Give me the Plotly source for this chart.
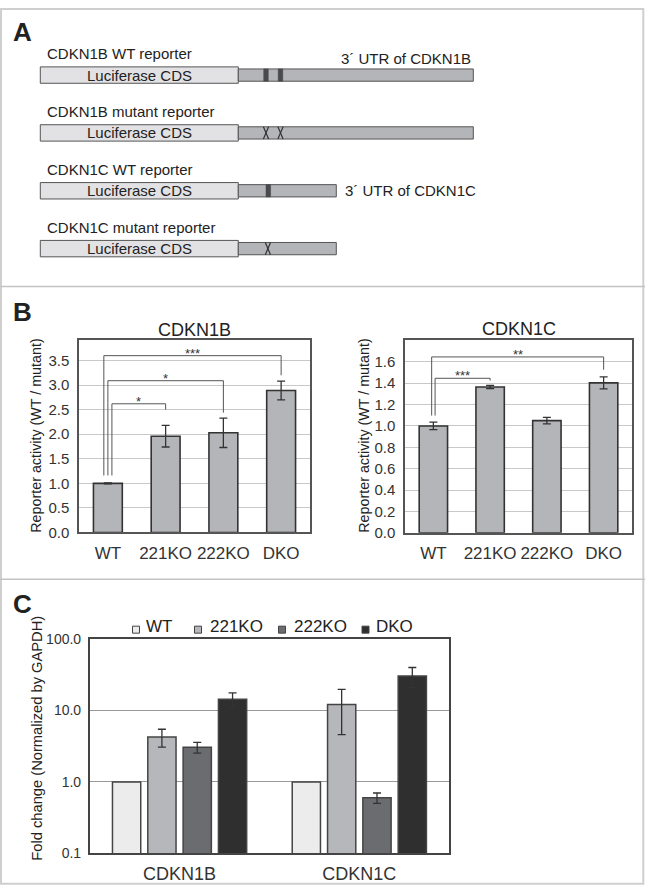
import plotly.graph_objects as go

W, H = 645, 894
FONT = "Liberation Sans, Arial, sans-serif"
TXT = "#222222"

# ---------------- Panel A data (schematic lengths, arbitrary units) ----------------
construct_names = ["CDKN1B WT reporter", "CDKN1B mutant reporter",
                   "CDKN1C WT reporter", "CDKN1C mutant reporter"]
luc_label = "Luciferase CDS"
luc_length = 198
utr_lengths = [235, 235, 98, 98]
site_offsets = [[27.7, 42.2], [27.7, 42.2], [30.0], [29.6]]
site_mutated = [False, True, False, True]
utr_labels = ["3´ UTR of CDKN1B", "3´ UTR of CDKN1C"]

# ---------------- Panel B data ----------------
genotypes = ["WT", "221KO", "222KO", "DKO"]
cdkn1b_reporter = [1.00, 1.96, 2.03, 2.89]
cdkn1b_reporter_err = [0.01, 0.22, 0.30, 0.19]
cdkn1c_reporter = [1.00, 1.364, 1.05, 1.403]
cdkn1c_reporter_err = [0.035, 0.015, 0.03, 0.057]
cdkn1b_sig = [("WT", "221KO", "*"), ("WT", "222KO", "*"), ("WT", "DKO", "***")]
cdkn1c_sig = [("WT", "221KO", "***"), ("WT", "DKO", "**")]
cdkn1b_yticks = [0.0, 0.5, 1.0, 1.5, 2.0, 2.5, 3.0, 3.5]
cdkn1c_yticks = [0.0, 0.2, 0.4, 0.6, 0.8, 1.0, 1.2, 1.4, 1.6]

# ---------------- Panel C data ----------------
genes = ["CDKN1B", "CDKN1C"]
series_names = ["WT", "221KO", "222KO", "DKO"]
fold_wt = [1.0, 1.0]
fold_221ko = [4.27, 12.2]
fold_222ko = [3.06, 0.60]
fold_dko = [14.4, 30.5]
err_wt = [0.0, 0.0]
err_221ko = [1.2, 7.6]
err_222ko = [0.53, 0.10]
err_dko = [3.3, 9.6]
c_y_ticks = [0.1, 1, 10, 100]
c_y_ticklabels = ["0.1", "1.0", "10.0", "100.0"]

# ---------------- helpers ----------------
def px(x):
    return x / W

def py(y):
    return 1 - y / H

fig = go.Figure()

# ================= Panel A (schematic) on x4/y4, units = pixels =================
origin = 40.3
row_y0, row_step = 68.3, 58.9
luc_h, utr_h = 16.7, 12.5
for i, name in enumerate(construct_names):
    yc = row_y0 + i * row_step
    fig.add_trace(go.Bar(x=[luc_length], y=[yc], base=[origin], orientation="h",
                         width=luc_h, offset=-luc_h / 2,
                         marker=dict(color="#e2e2e4", line=dict(color="#555", width=1)),
                         xaxis="x4", yaxis="y4", showlegend=False, hoverinfo="skip"))
    fig.add_trace(go.Bar(x=[utr_lengths[i]], y=[yc], base=[origin + luc_length], orientation="h",
                         width=utr_h, offset=-utr_h / 2,
                         marker=dict(color="#b4b5b8", line=dict(color="#555", width=1)),
                         xaxis="x4", yaxis="y4", showlegend=False, hoverinfo="skip"))
    for s in site_offsets[i]:
        sx = origin + luc_length + s
        if site_mutated[i]:
            fig.add_trace(go.Scatter(
                x=[sx - 2.6, sx + 2.6, None, sx + 2.6, sx - 2.6],
                y=[yc - utr_h / 2, yc + utr_h / 2, None, yc - utr_h / 2, yc + utr_h / 2],
                mode="lines", line=dict(color="#333", width=1.2),
                xaxis="x4", yaxis="y4", showlegend=False, hoverinfo="skip"))
        else:
            fig.add_trace(go.Bar(x=[4.6], y=[yc], base=[sx - 2.3], orientation="h",
                                 width=utr_h, offset=-utr_h / 2,
                                 marker=dict(color="#4a4a4d", line=dict(color="#4a4a4d", width=0.5)),
                                 xaxis="x4", yaxis="y4", showlegend=False, hoverinfo="skip"))
    fig.add_annotation(x=origin + luc_length / 2, y=yc, text=luc_label, xref="x4", yref="y4",
                       xanchor="center", yanchor="middle",
                       showarrow=False, font=dict(size=15, color=TXT))
    fig.add_annotation(x=origin + 5, y=yc - 21.5, text=name, xref="x4", yref="y4",
                       xanchor="left", yanchor="middle", showarrow=False,
                       font=dict(size=15, color=TXT))

# UTR labels
fig.add_annotation(x=origin + luc_length + utr_lengths[0], y=row_y0 - 16.6, text=utr_labels[0],
                   xref="x4", yref="y4", xanchor="right", yanchor="middle", showarrow=False,
                   font=dict(size=15, color=TXT))
fig.add_annotation(x=origin + luc_length + utr_lengths[2] + 7, y=row_y0 + 2 * row_step,
                   text=utr_labels[1], xref="x4", yref="y4", xanchor="left", yanchor="middle",
                   showarrow=False, font=dict(size=15, color=TXT))

# ================= Panel B =================
xpos = list(range(len(genotypes)))
bar_style = dict(color="#b4b5b8", line=dict(color="#333", width=1.6))
err_style = dict(type="data", color="#333", thickness=1.3, width=4)

fig.add_trace(go.Bar(x=xpos, y=cdkn1b_reporter, width=0.5, marker=bar_style,
                     error_y=dict(array=cdkn1b_reporter_err, **err_style),
                     xaxis="x", yaxis="y", showlegend=False, hoverinfo="skip"))
fig.add_trace(go.Bar(x=xpos, y=cdkn1c_reporter, width=0.5, marker=bar_style,
                     error_y=dict(array=cdkn1c_reporter_err, **err_style),
                     xaxis="x2", yaxis="y2", showlegend=False, hoverinfo="skip"))


def add_brackets(sig, heights, left_offsets, left_bottom, right_bottoms, xa, ya):
    for (a, b, label), h, lo, rb in zip(sig, heights, left_offsets, right_bottoms):
        ia, ib = genotypes.index(a), genotypes.index(b)
        xl = ia + lo
        fig.add_trace(go.Scatter(x=[xl, xl, ib, ib], y=[left_bottom, h, h, rb], mode="lines",
                                 line=dict(color="#555", width=1), xaxis=xa, yaxis=ya,
                                 showlegend=False, hoverinfo="skip"))
        fig.add_annotation(x=(xl + ib) / 2, y=h, text=label, xref=xa, yref=ya,
                           xanchor="center", yanchor="bottom", yshift=-7, showarrow=False,
                           font=dict(size=13, color="#333"))


add_brackets(cdkn1b_sig, [2.62, 3.09, 3.60], [0.07, 0.0, -0.07], 1.16, [2.50, 2.44, 3.20], "x", "y")
add_brackets(cdkn1c_sig, [1.446, 1.646], [0.03, -0.03], 1.097, [1.425, 1.526], "x2", "y2")

# ================= Panel C =================
c_colors = ["#ebeceb", "#b6b7ba", "#6b6c6f", "#2f2f2f"]
c_vals = [fold_wt, fold_221ko, fold_222ko, fold_dko]
c_errs = [err_wt, err_221ko, err_222ko, err_dko]
for name, col, vals, errs in zip(series_names, c_colors, c_vals, c_errs):
    fig.add_trace(go.Bar(x=list(range(len(genes))), y=vals, name=name,
                         marker=dict(color=col, line=dict(color="#444", width=1.5)),
                         error_y=dict(array=errs, visible=any(e > 0 for e in errs), **err_style),
                         xaxis="x3", yaxis="y3", showlegend=False, hoverinfo="skip"))

# manual legend for panel C (overlay canvas x5/y5, pixel units)
leg_sq_x = [136, 198, 282, 365.5]
leg_tx_x = [144, 207.7, 292, 374]
leg_y = 630
fig.add_trace(go.Scatter(x=leg_sq_x, y=[leg_y + 3] * 4, mode="markers",
                         marker=dict(symbol="square", size=7, color=c_colors,
                                     line=dict(color="#444", width=1)),
                         xaxis="x5", yaxis="y5", showlegend=False, hoverinfo="skip"))
for tx, name in zip(leg_tx_x, series_names):
    fig.add_annotation(x=tx, y=leg_y, text=name, xref="x5", yref="y5", xanchor="left",
                       yanchor="middle", showarrow=False, font=dict(size=17, color=TXT))

# ================= Layout =================
hidden = dict(visible=False, showgrid=False, zeroline=False, fixedrange=True)
b_y = dict(showgrid=True, gridcolor="#c8c8c8", gridwidth=1, showline=True, mirror=True,
           linecolor="#555", linewidth=1.5, ticks="outside", ticklen=5,
           tickcolor="rgba(0,0,0,0)", tickfont=dict(size=15, color="#333"),
           zeroline=False, tickformat=".1f")
b_x = dict(showgrid=False, showline=True, mirror=True, linecolor="#555", linewidth=1.5,
           ticks="outside", ticklen=4, tickcolor="rgba(0,0,0,0)",
           tickfont=dict(size=17, color="#333"), zeroline=False,
           tickvals=xpos, ticktext=genotypes, range=[-0.5, 3.5])

fig.update_layout(
    width=W, height=H, autosize=False, margin=dict(l=0, r=0, t=0, b=0, pad=0),
    paper_bgcolor="white", plot_bgcolor="rgba(0,0,0,0)",
    font=dict(family=FONT, color=TXT),
    barmode="group", bargap=0.214, bargroupgap=0.2,
    hovermode=False, showlegend=False,
    xaxis=dict(domain=[px(79), px(310)], anchor="y", **b_x),
    yaxis=dict(domain=[py(534), py(338)], anchor="x", range=[0, 3.92],
               tickvals=cdkn1b_yticks, **b_y),
    xaxis2=dict(domain=[px(405), px(632)], anchor="y2", **b_x),
    yaxis2=dict(domain=[py(534.3), py(338)], anchor="x2", range=[0, 1.805],
                tickvals=cdkn1c_yticks, **b_y),
    xaxis3=dict(domain=[px(89.7), px(449.2)], anchor="y3", showgrid=False, showline=True,
                mirror=True, linecolor="#444", linewidth=1.5, ticks="outside", ticklen=3,
                tickcolor="rgba(0,0,0,0)", tickfont=dict(size=18, color="#333"),
                zeroline=False, tickvals=list(range(len(genes))), ticktext=genes,
                range=[-0.5, 1.5]),
    yaxis3=dict(domain=[py(860.7), py(642.7)], anchor="x3", type="log", range=[-1, 2],
                showgrid=True, gridcolor="#999", gridwidth=1, showline=True, mirror=True,
                linecolor="#444", linewidth=1.5, ticks="outside", ticklen=4,
                tickcolor="rgba(0,0,0,0)", tickfont=dict(size=14, color="#333"),
                tickvals=c_y_ticks, ticktext=c_y_ticklabels, zeroline=False),
    xaxis4=dict(domain=[0, 1], anchor="y4", range=[0, W], **hidden),
    yaxis4=dict(domain=[py(284), 1], anchor="x4", range=[284, 0], **hidden),
    xaxis5=dict(domain=[0, 1], anchor="y5", range=[0, W], **hidden),
    yaxis5=dict(domain=[0, 1], anchor="x5", range=[H, 0], **hidden),
)

# panel titles, axis titles, panel letters
ann = [
    dict(x=px(194.5), y=py(327.5), text="CDKN1B", font=dict(size=18, color=TXT)),
    dict(x=px(519), y=py(326.7), text="CDKN1C", font=dict(size=18, color=TXT)),
    dict(x=px(36), y=py(435.5), text="Reporter activity (WT / mutant)", textangle=-90,
         font=dict(size=14.3, color=TXT)),
    dict(x=px(364), y=py(435.5), text="Reporter activity (WT / mutant)", textangle=-90,
         font=dict(size=14.3, color=TXT)),
    dict(x=px(37), y=py(744), text="Fold change (Normalized by GAPDH)", textangle=-90,
         font=dict(size=14.7, color=TXT)),
    dict(x=px(22.6), y=py(24.5), text="<b>A</b>", font=dict(size=26, color=TXT)),
    dict(x=px(22.5), y=py(309.5), text="<b>B</b>", font=dict(size=26, color=TXT)),
    dict(x=px(22.5), y=py(607), text="<b>C</b>", font=dict(size=26, color=TXT)),
]
for a in ann:
    fig.add_annotation(xref="paper", yref="paper", xanchor="center", yanchor="middle",
                       showarrow=False, **a)

# frame and panel dividers
fig.add_shape(type="rect", xref="paper", yref="paper", x0=px(1), x1=px(643.3),
              y0=py(891.7), y1=py(1), line=dict(color="#cfcfcf", width=2), layer="above")
for yy in (283.5, 581.7):
    fig.add_shape(type="line", xref="paper", yref="paper", x0=0, x1=1, y0=py(yy), y1=py(yy),
                  line=dict(color="#c4c4c4", width=1.5))

fig.write_html(
    "out.html",
    config={"displayModeBar": False},
    post_script="document.body.style.margin='0';document.body.style.overflow='hidden';",
)
